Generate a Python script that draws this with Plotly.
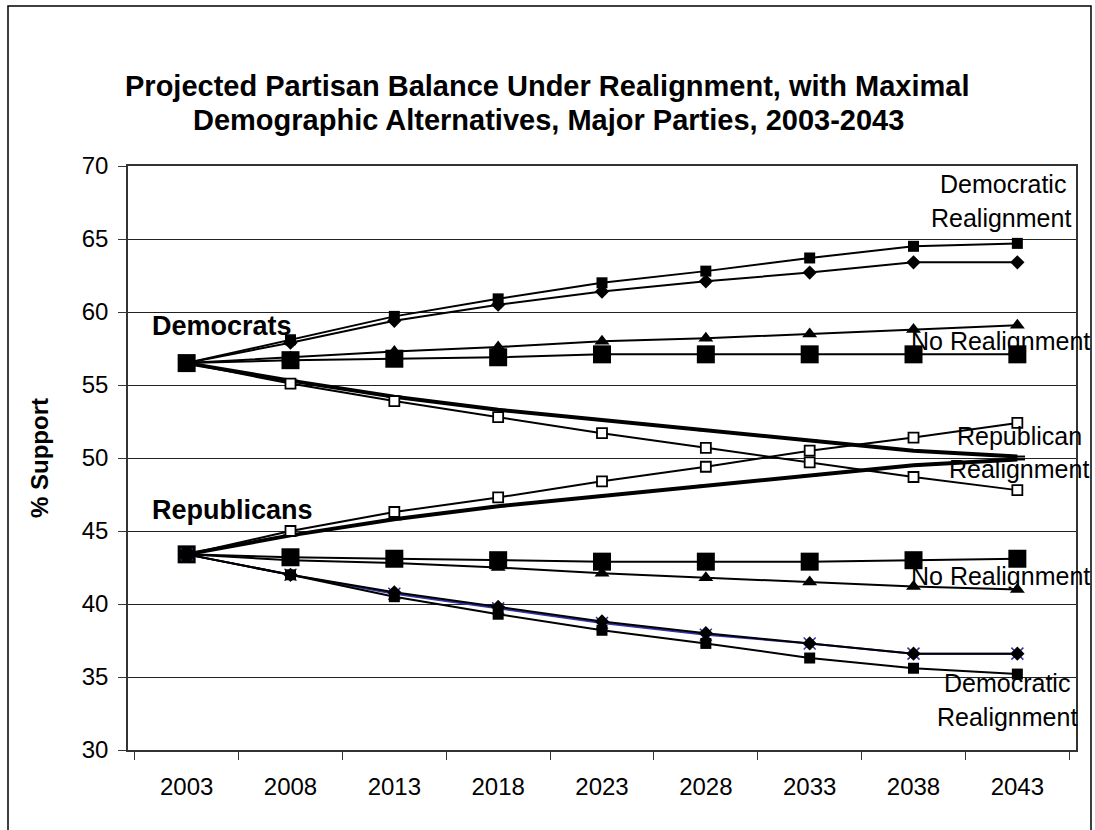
import plotly.graph_objects as go

# ---------------- data ----------------
years = ["2003", "2008", "2013", "2018", "2023", "2028", "2033", "2038", "2043"]

dem_dem_realign = [56.5, 58.1, 59.7, 60.9, 62.0, 62.8, 63.7, 64.5, 64.7]
dem_diamond     = [56.5, 57.9, 59.4, 60.5, 61.4, 62.1, 62.7, 63.4, 63.4]
dem_triangle    = [56.5, 56.9, 57.3, 57.6, 58.0, 58.2, 58.5, 58.8, 59.1]
dem_no_realign  = [56.5, 56.7, 56.8, 56.9, 57.1, 57.1, 57.1, 57.1, 57.1]
dem_rep_realign = [56.5, 55.3, 54.2, 53.3, 52.6, 51.9, 51.2, 50.5, 50.1]
dem_open_square = [56.5, 55.1, 53.9, 52.8, 51.7, 50.7, 49.7, 48.7, 47.8]

rep_open_square = [43.4, 45.0, 46.3, 47.3, 48.4, 49.4, 50.5, 51.4, 52.4]
rep_rep_realign = [43.4, 44.7, 45.8, 46.7, 47.4, 48.1, 48.8, 49.5, 49.9]
rep_no_realign  = [43.4, 43.2, 43.1, 43.0, 42.9, 42.9, 42.9, 43.0, 43.1]
rep_triangle    = [43.4, 43.0, 42.8, 42.5, 42.1, 41.8, 41.5, 41.2, 41.0]
rep_cross       = [43.4, 42.0, 40.7, 39.7, 38.7, 37.9, 37.3, 36.6, 36.6]
rep_diamond     = [43.4, 42.0, 40.8, 39.8, 38.8, 38.0, 37.3, 36.6, 36.6]
rep_dem_realign = [43.4, 42.0, 40.5, 39.3, 38.2, 37.3, 36.3, 35.6, 35.2]

title_lines = ["Projected Partisan Balance Under Realignment, with Maximal",
               "Demographic Alternatives, Major Parties, 2003-2043"]
y_title = "% Support"

# ---------------- layout geometry ----------------
W, H = 1095, 830
L, R, T, B = 128, 1076, 166, 750   # plot area in pixels
FONT = "Liberation Sans, Arial, sans-serif"

def px(x):
    return (x - L) / (R - L)

def py(y):
    return (B - y) / (B - T)

fig = go.Figure()

BLACK = "#000000"

def add(vals, symbol, size, fill=BLACK, lw=2, lcolor=BLACK, mline=0, mlcolor=BLACK):
    fig.add_trace(go.Scatter(
        x=years, y=vals, mode="lines+markers",
        line=dict(color=lcolor, width=lw),
        marker=dict(symbol=symbol, size=size, color=fill,
                    line=dict(width=mline, color=mlcolor)),
        showlegend=False, hoverinfo="skip"))

# Democrats
add(dem_rep_realign, "line-ew", 11, lw=4, mline=2)
add(dem_open_square, "square", 10, fill="white", mline=1.8)
add(dem_no_realign, "square", 18)
add(dem_triangle, "triangle-up", 13)
add(dem_diamond, "diamond", 11)
add(dem_dem_realign, "square", 11)

# Republicans
add(rep_rep_realign, "line-ew", 11, lw=4, mline=2)
add(rep_open_square, "square", 10, fill="white", mline=1.8)
add(rep_no_realign, "square", 18)
add(rep_triangle, "triangle-up", 13)
add(rep_cross, "x-thin", 12, lcolor="#3333aa", mline=1.5, mlcolor="#3333aa")
add(rep_diamond, "diamond", 11)
add(rep_dem_realign, "square", 11)

annotations = []

def text(x, y, s, size=25, bold=False, xanchor="center"):
    annotations.append(dict(
        x=px(x), y=py(y), xref="paper", yref="paper", text=("<b>%s</b>" % s) if bold else s,
        showarrow=False, xanchor=xanchor, yanchor="middle",
        font=dict(family=FONT, size=size, color=BLACK)))

text(547, 86, title_lines[0], size=29, bold=True)
text(548, 120, title_lines[1], size=29, bold=True)

text(150, 326, "Democrats", size=27, bold=True, xanchor="left")
text(150, 510, "Republicans", size=27, bold=True, xanchor="left")

text(1003, 184, "Democratic")
text(1001, 218, "Realignment")
text(1000, 341, "No Realignment")
text(1019, 436, "Republican")
text(1019, 469, "Realignment")
text(1000, 576, "No Realignment")
text(1007, 683, "Democratic")
text(1007, 717, "Realignment")

fig.update_layout(
    width=W, height=H,
    margin=dict(l=L, r=W - R, t=T, b=H - B),
    paper_bgcolor="white", plot_bgcolor="white",
    font=dict(family=FONT, size=24, color=BLACK),
    annotations=annotations,
    shapes=[dict(type="rect", xref="paper", yref="paper",
                 x0=px(8), x1=px(1091), y0=py(840), y1=py(6),
                 line=dict(color=BLACK, width=1.5), layer="below")],
    xaxis=dict(type="category", showgrid=False, showline=True, linecolor="#333333",
               linewidth=1.5, mirror=True, ticks="outside", ticklen=8,
               tickcolor="#333333", tickson="boundaries", ticklabelstandoff=14,
               tickfont=dict(family=FONT, size=24, color=BLACK), fixedrange=True),
    yaxis=dict(range=[30, 70], dtick=5, showgrid=True, gridcolor="#222222", gridwidth=1,
               showline=True, linecolor="#333333", linewidth=1.5, mirror=True,
               ticks="outside", ticklen=8, tickcolor="#333333", ticklabelstandoff=5,
               tickfont=dict(family=FONT, size=24, color=BLACK),
               title=dict(text="<b>%s</b>" % y_title, font=dict(family=FONT, size=24, color=BLACK),
                          standoff=26),
               zeroline=False, fixedrange=True),
)

fig.write_html("out.html")
